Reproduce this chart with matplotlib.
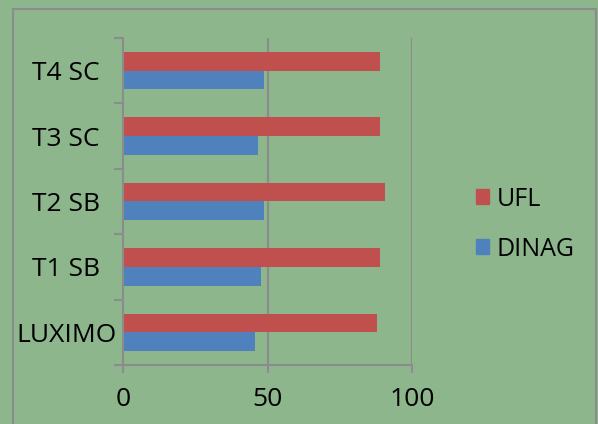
import matplotlib
matplotlib.use("Agg")
import matplotlib.pyplot as plt
from matplotlib.patches import Rectangle, Patch
import numpy as np

# data
categories = ["LUXIMO", "T1 SB", "T2 SB", "T3 SC", "T4 SC"]
ufl = [87.9, 88.8, 90.5, 89.0, 88.8]
dinag = [45.8, 47.9, 48.7, 46.6, 48.9]
x_ticks = [0, 50, 100]

bg = "#8DB68D"
grey = "#8C8C8C"
red = "#C0504D"
blue = "#4F81BD"

plt.rcParams["font.family"] = ["Open Sans", "DejaVu Sans"]

fig = plt.figure(figsize=(5.98, 4.24), dpi=100)
fig.patch.set_facecolor(bg)

# outer chart border
fig.patches.append(Rectangle((13 / 598, -0.05), (596 - 13) / 598, 1 - 9 / 424 + 0.05,
                             transform=fig.transFigure, fill=False,
                             edgecolor=grey, linewidth=1.5))

ax = fig.add_axes([123 / 598, 1 - 365 / 424, (412 - 123) / 598, (365 - 38) / 424])
ax.set_facecolor(bg)

y = np.arange(len(categories))
h = 0.285
ax.barh(y + h / 2, ufl, height=h, color=red, label="UFL")
ax.barh(y - h / 2, dinag, height=h, color=blue, label="DINAG")

ax.set_xlim(0, 100)
ax.set_ylim(-0.5, len(categories) - 0.5)
ax.set_xticks(x_ticks)
ax.set_xticklabels([str(t) for t in x_ticks])
ax.set_yticks(y)
ax.set_yticklabels(categories)
ax.set_yticks(np.arange(-0.5, len(categories)), minor=True)

for s in ["top", "right"]:
    ax.spines[s].set_visible(False)
for s in ["left", "bottom"]:
    ax.spines[s].set_color(grey)
    ax.spines[s].set_linewidth(1.5)

for xv in x_ticks[1:]:
    ax.axvline(xv, color=grey, linewidth=1.6, zorder=0)

ax.tick_params(axis="y", which="major", length=0, pad=41, labelsize=19)
ax.tick_params(axis="y", which="minor", length=6.5, width=1.5, color=grey)
ax.tick_params(axis="x", which="major", length=5.5, width=1.5, color=grey,
               pad=10, labelsize=19)
for lbl in ax.get_yticklabels():
    lbl.set_horizontalalignment("center")

handles = [Patch(color=red, label="UFL"), Patch(color=blue, label="DINAG")]
fig.legend(handles=handles, loc="upper left", bbox_to_anchor=(453 / 598, 1 - 164 / 424),
           frameon=False, fontsize=18, handlelength=0.52, handleheight=0.52,
           handletextpad=0.33, labelspacing=1.0)

plt.savefig("out.png", dpi=100, facecolor=bg)
